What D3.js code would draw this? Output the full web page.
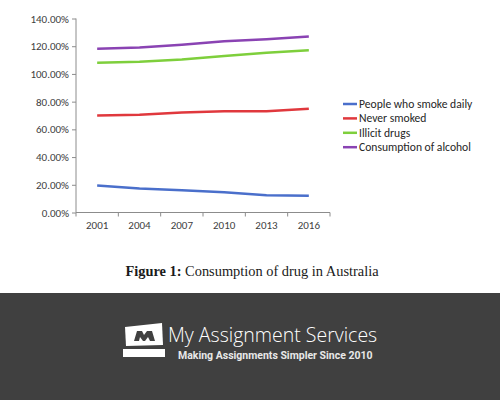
<!DOCTYPE html>
<html>
<head>
<meta charset="utf-8">
<script src="https://cdn.jsdelivr.net/npm/d3@7"></script>
<style>
body { margin: 0; background: #fff; }
svg { display: block; }
</style>
</head>
<body>
<script>
var w = 500;
var h = 400;

var years = ["2001", "2004", "2007", "2010", "2013", "2016"];
var seriesNames = ["People who smoke daily", "Never smoked", "Illicit drugs", "Consumption of alcohol"];
var smokeDaily = [19.5, 17.3, 16.1, 14.6, 12.5, 12.0];
var neverSmoked = [70.0, 70.5, 72.2, 73.1, 73.0, 74.8];
var illicitDrugs = [108.0, 108.7, 110.4, 113.0, 115.2, 117.0];
var alcohol = [118.2, 119.0, 121.0, 123.6, 125.0, 127.0];
var yTicks = [0, 20, 40, 60, 80, 100, 120, 140];
var colors = ["#4a6fcb", "#e0383d", "#7ecf3c", "#8a43b3"];

var dataset = [smokeDaily, neverSmoked, illicitDrugs, alcohol];

var svg = d3.select("body")
    .append("svg")
    .attr("width", w)
    .attr("height", h);

var xScale = d3.scaleBand()
    .domain(years)
    .range([76, 330]);

var yScale = d3.scaleLinear()
    .domain([0, 140])
    .range([212.5, 18.5]);

// y axis
var yAxis = svg.append("g")
    .attr("class", "yaxis")
    .attr("transform", "translate(76,0)")
    .call(d3.axisLeft(yScale)
        .tickValues(yTicks)
        .tickSize(4)
        .tickFormat(function(d) { return d.toFixed(2) + "%"; }));

// x axis
var xAxis = svg.append("g")
    .attr("class", "xaxis")
    .attr("transform", "translate(0,212.5)")
    .call(d3.axisBottom(xScale).tickSize(0).tickPadding(9));

// category boundary ticks
xAxis.selectAll("line.sep")
    .data(d3.range(years.length + 1))
    .enter()
    .append("line")
    .attr("class", "sep")
    .attr("x1", function(i) { return 76 + i * xScale.bandwidth(); })
    .attr("x2", function(i) { return 76 + i * xScale.bandwidth(); })
    .attr("y1", 0)
    .attr("y2", 4);

svg.selectAll(".domain, .tick line, line.sep")
    .attr("stroke", "#8c8c8c");
yAxis.select(".domain").attr("d", "M0,18.5V212.5");
xAxis.select(".domain").attr("d", "M76,0H330");
svg.selectAll(".tick text")
    .attr("fill", "#404040")
    .style("font-family", "Carlito, 'Liberation Sans', Arial, sans-serif")
    .style("font-size", "11px");

var line = d3.line()
    .x(function(d, i) { return xScale(years[i]) + xScale.bandwidth() / 2; })
    .y(function(d) { return yScale(d); });

svg.selectAll("path.series")
    .data(dataset)
    .enter()
    .append("path")
    .attr("class", "series")
    .attr("d", line)
    .attr("fill", "none")
    .attr("stroke", function(d, i) { return colors[i]; })
    .attr("stroke-width", 2.5)
    .attr("stroke-linejoin", "round");

// legend
var legend = svg.append("g")
    .attr("transform", "translate(343,104)");

seriesNames.forEach(function(name, i) {
    legend.append("line")
        .attr("x1", 0)
        .attr("x2", 14)
        .attr("y1", i * 14.4)
        .attr("y2", i * 14.4)
        .attr("stroke", colors[i])
        .attr("stroke-width", 2.5);
    legend.append("text")
        .attr("x", 16)
        .attr("y", i * 14.4 + 4)
        .attr("fill", "#262626")
        .style("font-family", "Carlito, 'Liberation Sans', Arial, sans-serif")
        .style("font-size", "11.6px")
        .text(name);
});

// caption
var caption = svg.append("text")
    .attr("x", 252)
    .attr("y", 276)
    .attr("text-anchor", "middle")
    .attr("fill", "#1a1a1a")
    .style("font-family", "'Liberation Serif', 'Times New Roman', serif")
    .style("font-size", "14.4px");
caption.append("tspan").style("font-weight", "bold").text("Figure 1:");
caption.append("tspan").text(" Consumption of drug in Australia");

// footer band
svg.append("rect")
    .attr("x", 0)
    .attr("y", 293)
    .attr("width", w)
    .attr("height", h - 293)
    .attr("fill", "#404040");

// logo icon
var logo = svg.append("g");
logo.append("path")
    .attr("d", "M125,327 L162,323 L163,345 L126,346 Z")
    .attr("fill", "#fff");
logo.append("path")
    .attr("d", "M134,341 L137,331 L142,331 L144,335 L147,331 L152,331 L155,341 L150,341 L148,337 L145,341 L143,341 L140,337 L139,341 Z")
    .attr("fill", "#404040");
logo.append("rect")
    .attr("x", 123)
    .attr("y", 349)
    .attr("width", 42)
    .attr("height", 8)
    .attr("fill", "#fff");

svg.append("text")
    .attr("x", 168)
    .attr("y", 342)
    .attr("fill", "#fff")
    .style("font-family", "'Open Sans', 'Noto Sans', sans-serif")
    .style("font-weight", "300")
    .style("font-size", "19.5px")
    .text("My Assignment Services");

svg.append("text")
    .attr("x", 178)
    .attr("y", 359)
    .attr("fill", "#e8e8e8")
    .style("font-family", "Roboto, 'Open Sans', sans-serif")
    .style("font-weight", "bold")
    .style("font-size", "10.5px")
    .text("Making Assignments Simpler Since 2010");
</script>
</body>
</html>
